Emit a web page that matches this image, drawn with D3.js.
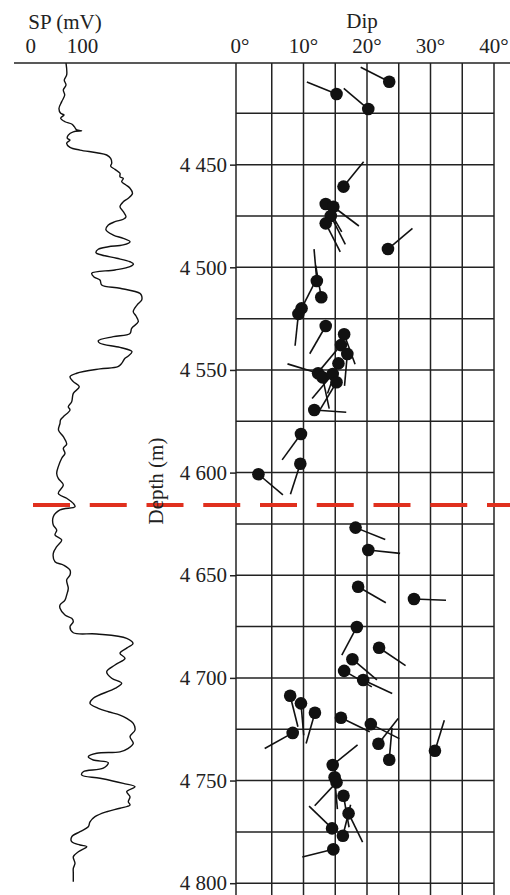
<!DOCTYPE html>
<html>
<head>
<meta charset="utf-8">
<script src="https://cdn.jsdelivr.net/npm/d3@7"></script>
<style>
body { margin: 0; background: #fff; }
svg text { font-family: "Liberation Serif", "Times New Roman", serif; fill: #222; }
</style>
</head>
<body>
<svg id="chart"></svg>
<script>
// SP log (depth in m, SP in mV)
var spDepth = [4400.5,4406.3,4408.8,4411.2,4413.6,4416.1,4419.3,4422.6,4425.0,4425.8,
    4427.4,4429.1,4430.2,4431.5,4433.1,4433.5,4434.0,4435.6,4437.2,4438.0,
    4439.6,4441.6,4442.9,4444.2,4445.3,4446.9,4449.3,4450.7,4452.3,4454.2,
    4455.9,4456.7,4458.3,4459.9,4461.5,4464.0,4466.4,4468.1,4470.5,4472.9,
    4475.4,4476.6,4477.8,4479.4,4481.8,4484.3,4485.9,4487.5,4489.1,4490.0,
    4491.2,4492.9,4494.0,4495.6,4497.3,4498.4,4499.7,4501.3,4502.9,4504.7,
    4506.2,4508.6,4510.2,4512.7,4514.0,4515.9,4518.4,4521.6,4523.7,4526.5,
    4529.7,4532.2,4533.8,4535.8,4537.0,4539.0,4541.1,4543.2,4544.3,4546.8,
    4548.4,4549.5,4551.6,4553.3,4555.7,4558.2,4561.4,4565.5,4567.9,4569.5,
    4572.8,4574.4,4576.0,4579.3,4582.5,4586.1,4588.2,4590.6,4593.0,4597.1,
    4600.4,4602.8,4606.0,4610.1,4612.5,4615.0,4616.6,4618.2,4621.5,4625.5,
    4628.0,4630.4,4632.8,4636.1,4639.3,4643.4,4645.0,4647.5,4649.9,4652.3,
    4656.4,4659.6,4662.1,4664.5,4666.1,4669.4,4671.0,4672.6,4675.1,4678.0,
    4678.6,4680.7,4683.2,4685.4,4688.0,4690.5,4693.7,4697.0,4700.2,4702.6,
    4705.1,4709.9,4712.4,4714.8,4716.5,4718.1,4719.7,4722.1,4725.4,4728.6,
    4731.9,4734.3,4736.0,4736.7,4738.4,4740.0,4741.3,4744.0,4745.7,4747.3,
    4748.9,4751.4,4753.0,4755.4,4757.9,4760.3,4761.9,4763.5,4765.2,4767.6,
    4770.1,4772.5,4774.9,4777.4,4779.8,4781.4,4782.2,4784.7,4787.1,4790.3,
    4792.8,4795.2,4799.3];
var spValue = [68.1,69.4,64.8,68.1,62.9,65.6,59.8,54.5,57.8,64.2,
    57.8,66.1,79.1,84.1,88.8,98.4,82.2,72.5,70.6,75.8,
    69.4,75.8,95.2,127.5,146.8,154.5,156.5,154.5,162.8,172.5,
    172.5,178.9,175.8,184.1,191.9,196.7,188.6,178.9,172.5,178.9,
    184.1,178.9,162.8,149.9,145.4,159.6,178.9,191.9,178.9,149.9,
    130.5,126.1,137.1,166.1,191.9,198.6,191.9,162.8,117.8,122.2,
    133.8,137.1,172.5,211.2,214.5,214.5,205.4,198.2,203.5,207.9,
    195.1,191.9,159.6,130.5,133.8,172.5,195.7,188.6,182.2,175.8,
    168.6,133.8,88.8,75.8,82.2,93.8,82.2,79.1,72.5,75.8,
    62.9,57.4,56.5,53.6,62.9,69.4,62.9,66.1,59.8,53.2,
    50.1,53.2,62.9,53.2,69.4,82.2,85.5,56.5,43.5,43.5,
    50.1,46.8,59.8,50.1,43.5,46.8,62.9,75.8,75.8,69.4,
    72.5,69.4,66.1,56.5,56.5,66.1,79.1,82.2,75.8,82.2,
    127.5,185.5,197.7,186.1,172.5,182.2,162.8,146.8,156.5,175.8,
    162.8,120.9,114.5,130.5,149.9,172.5,185.5,198.2,201.5,191.9,
    198.2,188.6,172.5,127.5,111.2,120.9,149.9,140.2,101.5,98.4,
    133.8,178.9,201.5,185.5,191.9,188.6,191.9,172.5,146.8,124.2,
    114.5,111.2,95.2,79.1,79.1,95.2,108.1,91.9,82.2,85.5,
    82.2,82.2,82.2];

// Dip tadpoles
var dipDepth = [4409.6,4415.6,4422.9,4460.7,4469.2,4470.5,4475.0,4478.6,4491.1,4506.7,
    4514.6,4520.0,4522.7,4528.6,4532.6,4537.9,4542.2,4546.8,4551.6,4553.6,
    4552.0,4556.0,4569.5,4581.2,4595.7,4600.8,4626.8,4637.7,4655.6,4661.6,
    4675.2,4685.3,4690.9,4696.6,4701.0,4708.7,4712.4,4717.0,4719.4,4722.5,
    4726.8,4732.1,4739.9,4735.5,4742.4,4748.4,4750.9,4757.4,4766.0,4776.9,
    4773.3,4783.5];
var dipAngle = [23.5,15.2,20.2,16.3,13.5,14.7,14.3,13.5,23.3,12.1,
    12.8,9.7,9.2,13.5,16.4,15.9,16.9,15.5,12.3,13.0,
    14.6,15.2,11.7,9.6,9.5,2.9,18.2,20.2,18.6,27.4,
    18.4,21.9,17.7,16.4,19.4,7.9,9.6,11.8,15.9,20.6,
    8.3,21.8,23.5,30.7,14.6,14.9,15.2,16.3,17.1,16.2,
    14.5,14.7];
var dipAzimuth = [297,292,310,39,150,127,153,153,50,355,
    350,27,186,210,160,220,185,200,287,168,
    220,211,94,216,198,130,112,96,120,92,
    208,124,130,120,115,166,175,196,116,117,
    241,38,5,17,51,175,223,170,154,14,
    314,256];

var depthTicks = [4450, 4500, 4550, 4600, 4650, 4700, 4750, 4800];
var dipTicks = [0, 10, 20, 30, 40];
var spTicks = [0, 100];
var boundaryDepth = 4615.8;

const chartW = 510,
    chartH = 895,
    axisX = 236,
    topY = 63,
    dotR = 6.3,
    tailL = 32,
    fontSize = 21;

var svg = d3.select('#chart')
    .attr("width", chartW)
    .attr("height", chartH);

var yScale = d3.scaleLinear().domain([4400, 4800]).range([62, 883.2]);
var xDip = d3.scaleLinear().domain([0, 40]).range([240, 494]);
var xSp = d3.scaleLinear().domain([0, 100]).range([30.8, 82.5]);

// header line
svg.append("line")
    .attr("x1", 14).attr("x2", chartW)
    .attr("y1", topY).attr("y2", topY)
    .style("stroke", "#222").style("stroke-width", 1.6);

// dip grid
var grid = svg.append("g").style("stroke", "#222").style("stroke-width", 1.5);
grid.selectAll(".vg")
    .data(d3.range(5, 41, 5))
    .enter().append("line")
    .attr("x1", d => xDip(d)).attr("x2", d => xDip(d))
    .attr("y1", topY).attr("y2", chartH);
grid.selectAll(".hg")
    .data(d3.range(4425, 4801, 25))
    .enter().append("line")
    .attr("x1", axisX).attr("x2", xDip(40))
    .attr("y1", d => yScale(d)).attr("y2", d => yScale(d));
grid.append("line")
    .attr("x1", axisX).attr("x2", axisX)
    .attr("y1", topY).attr("y2", chartH);

// depth axis
var yAxis = d3.axisLeft(yScale)
    .tickValues(depthTicks)
    .tickSize(6)
    .tickPadding(3)
    .tickFormat(d => d3.format(",")(d).replace(",", " "));
var yg = svg.append("g")
    .attr("transform", "translate(" + axisX + ",0)")
    .call(yAxis);
yg.select(".domain").remove();
yg.selectAll(".tick line").style("stroke", "#222").style("stroke-width", 1.5);
yg.selectAll(".tick text")
    .attr("font-family", null)
    .style("font-size", fontSize + "px");
yg.attr("font-family", null).attr("font-size", null);

// SP curve
var spData = spDepth.map((d, i) => ({depth: d, value: spValue[i]}));
var spLine = d3.line()
    .x(d => xSp(d.value))
    .y(d => yScale(d.depth))
    .curve(d3.curveCatmullRom);
svg.append("path")
    .datum(spData)
    .attr("d", spLine)
    .style("fill", "none")
    .style("stroke", "#111")
    .style("stroke-width", 1.4);

// tadpoles
var dips = dipDepth.map((d, i) => ({depth: d, dip: dipAngle[i], az: dipAzimuth[i]}));
svg.append("g").selectAll("line")
    .data(dips)
    .enter().append("line")
    .attr("x1", d => xDip(d.dip))
    .attr("y1", d => yScale(d.depth))
    .attr("x2", d => xDip(d.dip) + tailL * Math.sin(d.az * Math.PI / 180))
    .attr("y2", d => yScale(d.depth) - tailL * Math.cos(d.az * Math.PI / 180))
    .style("stroke", "#111")
    .style("stroke-width", 1.6);
svg.append("g").selectAll("circle")
    .data(dips)
    .enter().append("circle")
    .attr("cx", d => xDip(d.dip))
    .attr("cy", d => yScale(d.depth))
    .attr("r", dotR)
    .style("fill", "#111");

// boundary line
svg.append("line")
    .attr("x1", 33).attr("x2", chartW)
    .attr("y1", yScale(boundaryDepth)).attr("y2", yScale(boundaryDepth))
    .style("stroke", "#e0301e")
    .style("stroke-width", 4)
    .style("stroke-dasharray", "37 19.75");

// titles and scale labels
svg.append("text")
    .attr("x", 65).attr("y", 28.5)
    .attr("text-anchor", "middle")
    .style("font-size", fontSize + "px")
    .text("SP (mV)");
svg.selectAll(".spt")
    .data(spTicks)
    .enter().append("text")
    .attr("x", d => xSp(d)).attr("y", 53)
    .attr("text-anchor", "middle")
    .style("font-size", fontSize + "px")
    .text(d => d);
svg.append("text")
    .attr("x", 362).attr("y", 28)
    .attr("text-anchor", "middle")
    .style("font-size", fontSize + "px")
    .text("Dip");
svg.selectAll(".dpt")
    .data(dipTicks)
    .enter().append("text")
    .attr("x", d => xDip(d)).attr("y", 53)
    .attr("text-anchor", "middle")
    .style("font-size", fontSize + "px")
    .text(d => d + "°");
svg.append("text")
    .attr("transform", "translate(158,481) rotate(-90)")
    .attr("text-anchor", "middle")
    .attr("dominant-baseline", "middle")
    .style("font-size", fontSize + "px")
    .text("Depth (m)");
</script>
</body>
</html>
